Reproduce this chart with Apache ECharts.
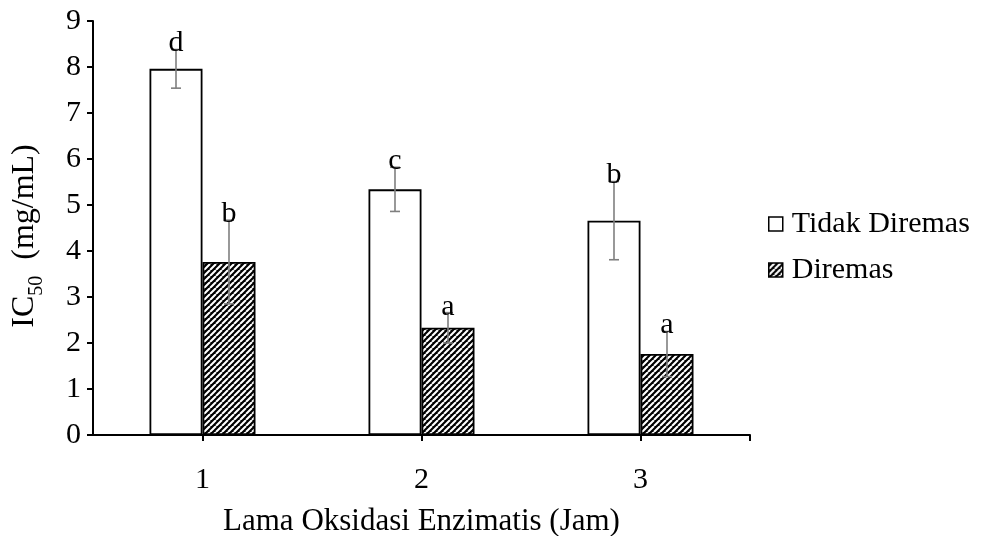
<!DOCTYPE html>
<html>
<head>
<meta charset="utf-8">
<script src="https://cdn.jsdelivr.net/npm/echarts@6/dist/echarts.min.js"></script>
<style>
html,body{margin:0;padding:0;background:#fff;}
#chart{width:983px;height:536px;}
</style>
</head>
<body>
<div id="chart"></div>
<script>
// ---- data ----
const categories = ['1', '2', '3'];
const tidakValues = [7.96, 5.34, 4.66];
const tidakErrors = [0.42, 0.48, 0.85];
const tidakLetters = ['d', 'c', 'b'];
const diremasValues = [3.76, 2.33, 1.76];
const diremasErrors = [0.91, 0.33, 0.49];
const diremasLetters = ['b', 'a', 'a'];
const seriesNames = ['Tidak Diremas', 'Diremas'];
const yMin = 0, yMax = 9, yInterval = 1;
const xTitle = 'Lama Oksidasi Enzimatis (Jam)';

// ---- style ----
const FONT = '"Liberation Serif", "Times New Roman", serif';
const BAR_W = 53;
const ERR_COLOR = '#7f7f7f';

function makeHatch() {
  const s = 6;
  const c = document.createElement('canvas');
  c.width = s; c.height = s;
  const ctx = c.getContext('2d');
  ctx.fillStyle = '#000';
  ctx.fillRect(0, 0, s, s);
  ctx.strokeStyle = '#fff';
  ctx.lineWidth = 2.1;
  ctx.beginPath();
  for (let k = -1; k <= 1; k++) {
    ctx.moveTo(k * s, s);
    ctx.lineTo(k * s + s, 0);
  }
  ctx.stroke();
  return c;
}
const hatch = { image: makeHatch(), repeat: 'repeat' };

function errSeries(values, errors, letters, offset) {
  return {
    type: 'custom',
    xAxisIndex: 0,
    yAxisIndex: 0,
    silent: true,
    z: 5,
    data: values.map((v, i) => [i, v, errors[i]]),
    encode: { x: 0, y: 1 },
    renderItem: function (params, api) {
      const idx = api.value(0);
      const v = api.value(1);
      const e = api.value(2);
      const letter = letters[params.dataIndex];
      const c = api.coord([idx, v]);
      const x = c[0] + offset;
      const top = api.coord([idx, v + e])[1];
      const bot = api.coord([idx, v - e])[1];
      const ls = { stroke: ERR_COLOR, lineWidth: 1.6 };
      const cap = 5;
      return {
        type: 'group',
        children: [
          { type: 'line', shape: { x1: x, y1: top, x2: x, y2: bot }, style: ls },
          { type: 'line', shape: { x1: x - cap, y1: top, x2: x + cap, y2: top }, style: ls },
          { type: 'line', shape: { x1: x - cap, y1: bot, x2: x + cap, y2: bot }, style: ls },
          { type: 'text', z2: 10, style: { text: letter, x: x, y: top + 9, align: 'center', verticalAlign: 'bottom', font: '30px ' + FONT, fill: '#000' } }
        ]
      };
    }
  };
}

const chart = echarts.init(document.getElementById('chart'), null, { renderer: 'canvas' });
chart.setOption({
  backgroundColor: '#fff',
  animation: false,
  grid: { left: 93, right: 233, top: 21, bottom: 101, containLabel: false, outerBoundsMode: 'none' },
  legend: {
    orient: 'vertical',
    left: 763,
    top: 204,
    itemWidth: 14,
    itemHeight: 14,
    itemGap: 16,
    icon: 'rect',
    data: seriesNames,
    itemStyle: { borderColor: '#000', borderWidth: 1.5 },
    textStyle: { fontFamily: FONT, fontSize: 30, color: '#000', lineHeight: 30, padding: [0, 0, 0, 4] }
  },
  xAxis: [
    {
      type: 'category',
      data: categories,
      boundaryGap: true,
      axisLine: { show: true, lineStyle: { color: '#000', width: 2 } },
      axisTick: { show: true, alignWithLabel: true, length: 6, lineStyle: { color: '#000', width: 2 } },
      axisLabel: { fontFamily: FONT, fontSize: 30, color: '#000', margin: 30 },
      splitLine: { show: false },
      name: xTitle,
      nameLocation: 'middle',
      nameGap: 71,
      nameTextStyle: { fontFamily: FONT, fontSize: 31, color: '#000' }
    },
    {
      type: 'value',
      position: 'bottom',
      min: 0.5,
      max: 3.5,
      axisLine: { show: false },
      axisTick: { show: true, customValues: [3.5], length: 6, lineStyle: { color: '#000', width: 2 } },
      axisLabel: { show: false },
      splitLine: { show: false }
    }
  ],
  yAxis: {
    type: 'value',
    min: yMin,
    max: yMax,
    interval: yInterval,
    axisLine: { show: true, lineStyle: { color: '#000', width: 2 } },
    axisTick: { show: true, length: 6, lineStyle: { color: '#000', width: 2 } },
    axisLabel: { fontFamily: FONT, fontSize: 30, color: '#000', margin: 12 },
    splitLine: { show: false },
    name: '{m|IC}{s|50}{m|  (mg/mL)}',
    nameLocation: 'middle',
    nameGap: 46,
    nameRotate: 90,
    nameTextStyle: {
      color: '#000',
      padding: [0, 16, 0, 0],
      rich: {
        m: { fontFamily: FONT, fontSize: 32, lineHeight: 44, verticalAlign: 'middle', color: '#000' },
        s: { fontFamily: FONT, fontSize: 20, lineHeight: 16, verticalAlign: 'bottom', color: '#000' }
      }
    }
  },
  series: [
    {
      name: seriesNames[0],
      type: 'bar',
      xAxisIndex: 0,
      barWidth: BAR_W,
      barGap: '0%',
      data: tidakValues,
      itemStyle: { color: '#fff', borderColor: '#000', borderWidth: 1.8 }
    },
    {
      name: seriesNames[1],
      type: 'bar',
      xAxisIndex: 0,
      barWidth: BAR_W,
      barGap: '0%',
      data: diremasValues,
      itemStyle: { color: hatch, borderColor: '#000', borderWidth: 1.8 }
    },
    errSeries(tidakValues, tidakErrors, tidakLetters, -BAR_W / 2),
    errSeries(diremasValues, diremasErrors, diremasLetters, BAR_W / 2)
  ]
});
</script>
</body>
</html>
